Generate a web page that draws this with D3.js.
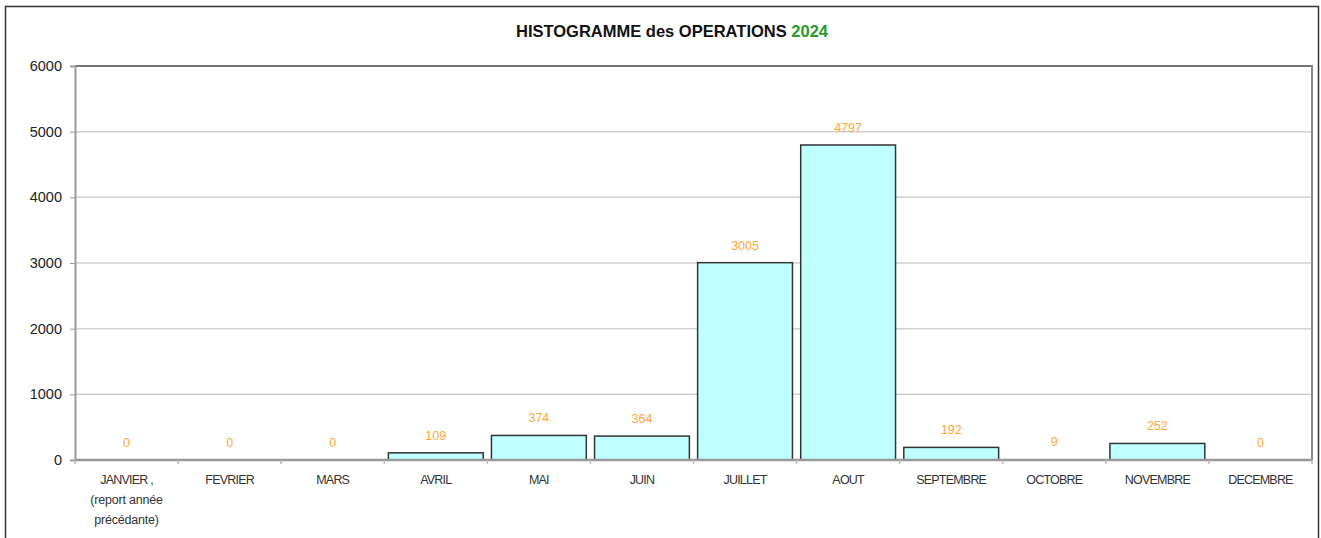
<!DOCTYPE html>
<html><head><meta charset="utf-8">
<script src="https://cdn.jsdelivr.net/npm/d3@7"></script>
<style>body{margin:0;background:#fff;font-family:"Liberation Sans",Arial,sans-serif}</style>
</head><body><svg id="c" width="1321" height="538"></svg>
<script>
const categories = ["JANVIER ,\n(report année\nprécédante)","FEVRIER","MARS","AVRIL","MAI","JUIN","JUILLET","AOUT","SEPTEMBRE","OCTOBRE","NOVEMBRE","DECEMBRE"];
const values = [0,0,0,109,374,364,3005,4797,192,9,252,0];
const yTicks = [0,1000,2000,3000,4000,5000,6000];
const titleMain = "HISTOGRAMME des OPERATIONS";
const titleYear = "2024";

const svg = d3.select("#c");
svg.append("rect").attr("x",5.5).attr("y",6.5).attr("width",1313).attr("height",540)
  .attr("fill","#fff").attr("stroke","#333").attr("stroke-width",1.5);

const L=75,T=66,R=1312,B=460;
const x = d3.scaleBand().domain(categories.map((d,i)=>i)).range([L,R]).paddingInner(0.08).paddingOuter(0.04);
const y = d3.scaleLinear().domain([0,6000]).range([B,T]);

// gridlines
svg.append("g").selectAll("line").data(yTicks.filter(d=>d>0&&d<6000)).join("line")
  .attr("x1",L).attr("x2",R).attr("y1",d=>y(d)).attr("y2",d=>y(d))
  .attr("stroke","#d0d0d0").attr("stroke-width",1.5);

// plot border
svg.append("line").attr("x1",L).attr("x2",R+1).attr("y1",T).attr("y2",T).attr("stroke","#444").attr("stroke-width",1.5);
svg.append("line").attr("x1",R).attr("x2",R).attr("y1",T).attr("y2",B).attr("stroke","#888").attr("stroke-width",2);

// y axis
const ya = svg.append("g").attr("transform",`translate(${L},0)`)
  .call(d3.axisLeft(y).tickValues(yTicks).tickSize(5).tickPadding(8).tickFormat(d3.format("d")));
ya.select(".domain").attr("stroke","#999").attr("stroke-width",2);
ya.selectAll(".tick line").attr("stroke","#999");
ya.selectAll("text").attr("font-size",14.5).attr("fill","#222").attr("font-family","Liberation Sans, Arial, sans-serif");

// bars
svg.append("g").selectAll("rect").data(values).join("rect")
  .attr("x",(d,i)=>x(i)).attr("width",x.bandwidth())
  .attr("y",d=>y(d)).attr("height",d=>B-y(d))
  .attr("fill","#c0ffff").attr("stroke","#333").attr("stroke-width",1.5)
  .attr("display",d=>d>20?null:"none");

// x axis
const xa = svg.append("g").attr("transform",`translate(0,${B})`);
xa.append("line").attr("x1",L).attr("x2",R).attr("y1",0).attr("y2",0).attr("stroke","#999").attr("stroke-width",2.5);
xa.selectAll("line.tk").data(d3.range(13)).join("line").attr("class","tk")
  .attr("x1",i=>L+i*(R-L)/12).attr("x2",i=>L+i*(R-L)/12).attr("y1",0).attr("y2",4)
  .attr("stroke","#bbb").attr("stroke-width",1.5);
const lab = xa.selectAll("text.lb").data(categories).join("text").attr("class","lb")
  .attr("x",(d,i)=>x(i)+x.bandwidth()/2).attr("y",24)
  .attr("text-anchor","middle").attr("font-size",12.5).attr("fill","#333");
lab.each(function(d){
  const t=d3.select(this);
  d.split("\n").forEach((s,k)=>t.append("tspan").attr("x",t.attr("x")).attr("dy",k?20:0)
    .attr("letter-spacing",k?"-0.2":"-0.8").text(s));
});

// value labels
svg.append("g").selectAll("text").data(values).join("text")
  .attr("x",(d,i)=>x(i)+x.bandwidth()/2).attr("y",d=>y(d)-13)
  .attr("text-anchor","middle").attr("font-size",12.5).attr("fill","#ffa53a").text(d=>d);

// title
const tt = svg.append("text").attr("x",672).attr("y",37).attr("text-anchor","middle")
  .attr("font-size",16.5).attr("font-weight","bold").attr("fill","#111");
tt.append("tspan").text(titleMain+" ");
tt.append("tspan").attr("fill","#2a9a2a").text(titleYear);
</script></body></html>
